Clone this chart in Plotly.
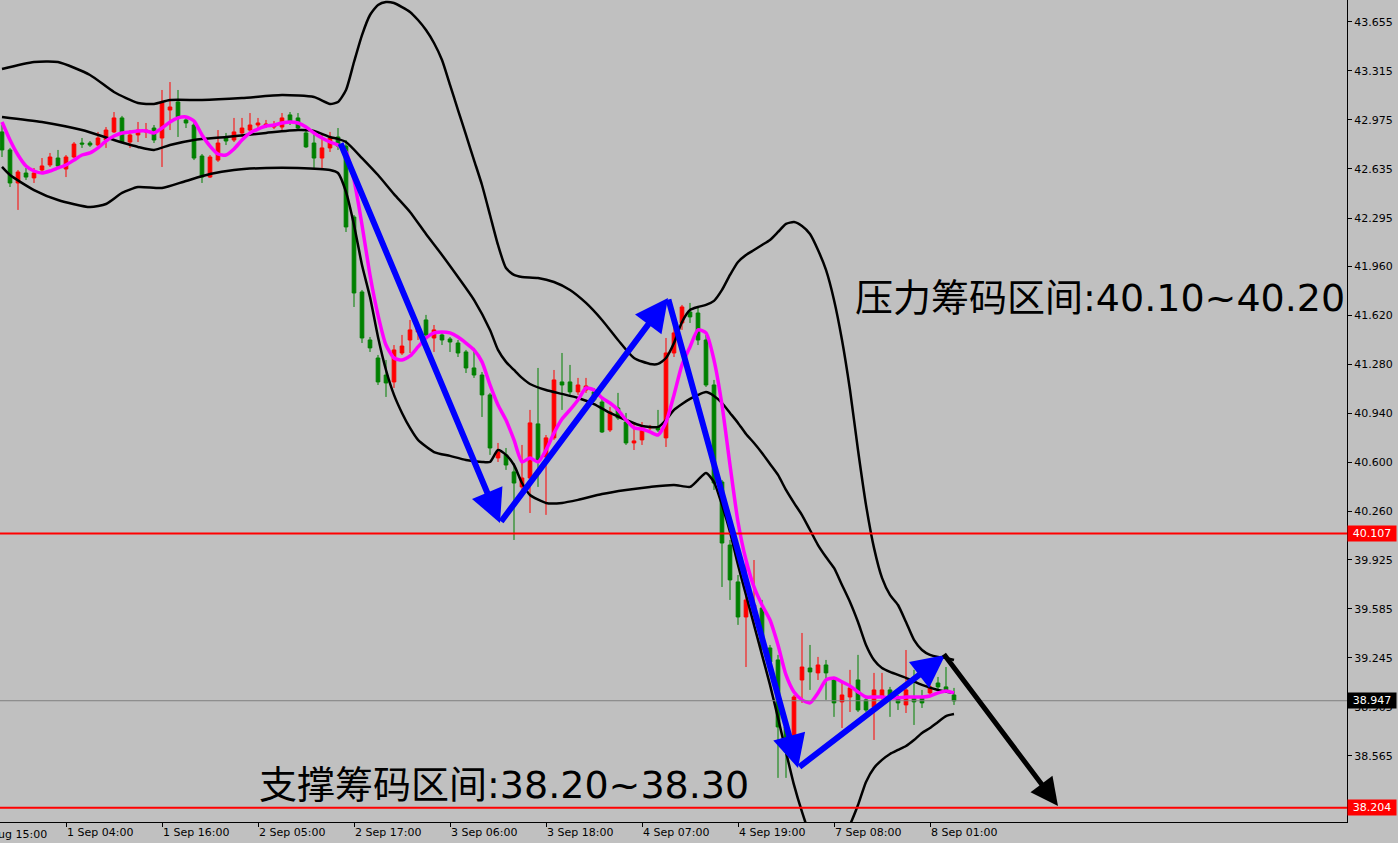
import plotly.graph_objects as go

# ---------------- data (H1 bars, index 0..119) ----------------
bar_open = [42.892,42.767,42.538,42.607,42.573,42.628,42.663,42.711,42.635,42.718,
            42.815,42.815,42.801,42.836,42.892,42.989,42.822,42.871,42.892,42.919,
            42.850,43.044,43.100,42.975,42.940,42.725,42.579,42.697,42.850,42.836,
            42.885,42.905,42.940,42.933,42.926,42.926,43.010,42.989,42.885,42.815,
            42.711,42.781,42.857,42.794,42.302,41.782,41.449,41.324,41.206,41.158,
            41.359,41.449,41.505,41.588,41.463,41.484,41.456,41.428,41.366,41.255,
            41.206,41.068,40.631,40.652,40.534,40.430,40.492,40.867,40.638,40.770,
            41.158,41.158,41.089,41.102,41.089,41.019,40.825,40.978,40.880,40.735,
            40.756,40.839,40.846,40.770,41.359,41.567,41.643,41.636,41.449,41.137,
            40.464,40.027,39.771,39.528,39.563,39.590,39.313,39.230,38.765,38.606,
            39.091,39.174,39.140,39.195,39.091,38.939,38.973,39.091,38.953,38.904,
            38.973,39.022,38.966,38.918,38.973,38.973,39.001,39.070,39.043,38.987]
bar_high = [42.940,42.781,42.628,42.642,42.642,42.711,42.746,42.767,42.732,42.822,
            42.850,42.829,42.892,42.926,43.030,43.003,42.905,42.961,42.954,42.940,
            43.183,43.238,43.183,42.996,42.961,42.739,42.732,42.905,42.885,42.989,
            42.989,43.023,42.989,42.975,42.968,43.023,43.030,43.023,42.905,42.905,
            42.885,42.892,42.919,42.836,42.316,41.796,41.470,41.345,41.310,41.414,
            41.484,41.588,41.574,41.623,41.553,41.505,41.470,41.449,41.380,41.394,
            41.227,41.082,40.735,40.700,40.596,40.721,40.964,41.255,40.790,41.241,
            41.359,41.276,41.186,41.186,41.116,41.054,40.985,41.082,40.943,40.880,
            40.880,40.860,40.964,41.463,41.602,41.692,41.706,41.671,41.484,41.172,
            40.478,40.062,39.819,39.910,39.923,39.646,39.334,39.265,38.779,38.987,
            39.417,39.334,39.251,39.230,39.105,39.070,39.161,39.265,38.973,39.140,
            39.140,39.043,38.987,39.299,39.161,39.022,39.112,39.112,39.181,39.036]
bar_low = [42.718,42.510,42.351,42.559,42.538,42.607,42.649,42.642,42.579,42.711,
           42.781,42.788,42.794,42.781,42.885,42.815,42.781,42.822,42.850,42.815,
           42.649,42.905,42.857,42.919,42.697,42.538,42.573,42.684,42.801,42.822,
           42.857,42.892,42.919,42.919,42.912,42.905,42.940,42.905,42.781,42.642,
           42.642,42.753,42.767,42.198,41.678,41.428,41.366,41.137,41.054,41.116,
           41.345,41.359,41.449,41.470,41.366,41.414,41.366,41.331,41.220,41.186,
           40.915,40.652,40.603,40.548,40.062,40.409,40.249,40.430,40.236,40.756,
           40.964,41.068,41.068,41.082,41.019,40.804,40.811,40.894,40.721,40.686,
           40.721,40.825,40.811,40.707,41.331,41.519,41.567,41.414,41.123,40.409,
           39.736,39.646,39.473,39.181,39.473,39.299,39.195,38.412,38.412,38.536,
           38.932,39.022,39.091,38.953,38.835,38.758,38.869,38.869,38.869,38.675,
           38.953,38.835,38.883,38.862,38.779,38.897,38.973,39.022,39.008,38.918]
bar_close = [42.767,42.538,42.614,42.579,42.607,42.656,42.718,42.656,42.718,42.808,
             42.808,42.801,42.850,42.905,42.989,42.822,42.871,42.905,42.905,42.836,
             43.093,43.065,42.996,42.954,42.711,42.579,42.718,42.815,42.829,42.892,
             42.919,42.940,42.954,42.947,42.940,42.989,42.961,42.919,42.788,42.711,
             42.781,42.850,42.794,42.233,41.775,41.463,41.394,41.158,41.151,41.380,
             41.407,41.519,41.532,41.484,41.519,41.449,41.435,41.359,41.255,41.206,
             41.068,40.700,40.672,40.582,40.457,40.492,40.874,40.617,40.770,41.172,
             41.137,41.089,41.137,41.130,41.033,40.811,40.950,40.908,40.735,40.749,
             40.839,40.846,40.825,41.359,41.498,41.678,41.609,41.449,41.137,40.457,
             40.041,39.785,39.528,39.646,39.611,39.313,39.216,38.765,38.592,38.973,
             39.181,39.147,39.195,39.140,38.932,38.987,39.036,38.883,38.883,39.022,
             39.022,38.966,38.932,39.022,38.939,38.932,39.043,39.043,39.022,38.946]

ma_values = [42.961,42.836,42.732,42.656,42.621,42.607,42.621,42.642,42.663,42.697,
             42.732,42.746,42.781,42.829,42.864,42.885,42.892,42.899,42.899,42.885,
             42.919,42.961,42.989,42.996,42.968,42.871,42.794,42.739,42.732,42.774,
             42.836,42.885,42.912,42.933,42.940,42.954,42.961,42.954,42.926,42.885,
             42.850,42.822,42.801,42.753,42.559,42.247,41.900,41.622,41.414,41.324,
             41.310,41.338,41.401,41.463,41.498,41.505,41.498,41.470,41.428,41.380,
             41.297,41.137,40.998,40.894,40.756,40.603,40.631,40.603,40.686,40.804,
             40.901,40.964,41.033,41.116,41.102,41.047,41.012,40.964,40.894,40.839,
             40.832,40.811,40.790,40.880,41.068,41.276,41.401,41.519,41.498,41.310,
             40.998,40.582,40.187,39.923,39.736,39.611,39.507,39.334,39.126,39.008,
             38.953,38.932,39.001,39.091,39.105,39.078,39.050,39.008,38.973,38.973,
             38.973,38.967,38.967,38.973,38.973,38.973,38.980,39.001,39.015,39.001]

upper_idx = [0,4,7,11,14,17,19,21,25,30,35,39,41,
             42,43,44,45,46,47,48,49,50,51,52,53,54,55,56,57,58,59,60,61,62,63,64,65,
             67,69,71,73,75,77,79,81,
             82,83,84,85,86,87,88,89,90,91,92,93,94,95,96,97,98,99,100,101,102,103,
             104,105,106,107,108,109,110,111,112,113,114,115,116,117,118,119]
upper_val = [43.328,43.377,43.377,43.287,43.169,43.093,43.086,43.113,43.113,43.127,43.148,43.134,43.086,
             43.100,43.183,43.377,43.564,43.703,43.772,43.793,43.786,43.758,43.724,43.668,43.599,
             43.509,43.391,43.218,43.044,42.871,42.697,42.524,42.316,42.108,41.948,41.900,41.886,
             41.879,41.851,41.796,41.706,41.588,41.449,41.324,41.283,
             41.283,41.324,41.428,41.574,41.657,41.678,41.692,41.720,41.796,41.900,41.990,42.039,
             42.073,42.108,42.143,42.198,42.254,42.267,42.240,42.184,42.073,41.935,41.727,41.449,
             41.102,40.686,40.305,40.007,39.799,39.681,39.611,39.493,39.369,39.299,39.265,39.251,
             39.244,39.230]

mid_idx = [0,5,10,14,17,19,21,24,28,33,37,39,41,42,43,
           45,47,49,51,53,55,57,59,61,62,63,64,65,66,68,70,72,74,76,78,80,
           82,83,84,85,86,87,88,89,90,91,92,93,94,95,96,97,98,99,100,101,102,103,
           104,105,106,107,108,109,110,111,113,115,117,119]
mid_val = [42.996,42.961,42.905,42.836,42.788,42.767,42.801,42.836,42.857,42.885,42.905,42.899,
           42.857,42.843,42.822,
           42.711,42.593,42.461,42.337,42.184,42.039,41.886,41.727,41.518,41.380,41.297,41.241,
           41.186,41.144,41.102,41.075,41.047,41.005,40.943,40.894,40.853,
           40.846,40.894,40.964,41.005,41.040,41.068,41.088,41.061,41.012,40.943,40.874,40.797,
           40.735,40.666,40.589,40.513,40.409,40.319,40.235,40.131,40.027,39.944,39.868,39.750,
           39.632,39.493,39.334,39.230,39.174,39.147,39.105,39.057,39.022,39.001]

lower_idx = [0,1,4,7,11,13,15,17,20,23,26,29,33,37,41,
             42,43,44,45,46,47,48,49,50,51,52,54,56,58,60,61,62,63,64,65,66,
             68,70,72,75,78,81,84,
             86,87,88,89,90,91,92,93,94,95,96,97,98,99,100,101,102,103,104,105,106,
             107,108,109,110,111,112,113,114,115,116,117,118,119]
lower_val = [42.649,42.593,42.489,42.420,42.371,42.392,42.469,42.510,42.503,42.552,42.600,
             42.628,42.642,42.642,42.628,
             42.607,42.476,42.247,41.969,41.747,41.470,41.241,41.068,40.943,40.839,40.756,
             40.672,40.645,40.617,40.603,40.603,40.686,40.652,40.582,40.457,40.374,
             40.319,40.319,40.340,40.381,40.409,40.430,40.444,
             40.430,40.478,40.527,40.464,40.305,40.118,39.889,39.681,39.473,39.265,39.057,
             38.828,38.592,38.363,38.176,38.016,37.912,37.857,37.878,37.961,38.086,
             38.224,38.384,38.481,38.537,38.578,38.606,38.633,38.675,38.724,38.758,38.800,
             38.841,38.855]

time_tick_idx = [8, 20, 32, 44, 56, 68, 80, 92, 104, 116]
time_tick_text = ["1 Sep 04:00", "1 Sep 16:00", "2 Sep 05:00", "2 Sep 17:00",
                  "3 Sep 06:00", "3 Sep 18:00", "4 Sep 07:00", "4 Sep 19:00",
                  "7 Sep 08:00", "8 Sep 01:00"]
first_time_label = "29 Aug 15:00"

price_ticks = [43.655, 43.315, 42.975, 42.635, 42.295, 41.960, 41.620, 41.280, 40.940,
               40.600, 40.260, 39.925, 39.585, 39.245, 38.905, 38.565, 38.225]

resistance_level = 40.107
support_level = 38.204
last_price = 38.947

# trend arrows (bar index, price): start -> end
blue_x0 = [42.25, 62.25, 83.25, 99.5]
blue_y0 = [42.822, 40.180, 41.740, 38.481]
blue_x1 = [62.25, 83.25, 99.5, 117.9]
blue_y1 = [40.180, 41.740, 38.481, 39.265]
black_x0, black_y0 = 117.6, 39.280
black_x1, black_y1 = 132.0, 38.217

resistance_text = "压力筹码区间:40.10~40.20"
support_text = "支撑筹码区间:38.20~38.30"

# ---------------- figure ----------------
idx = list(range(len(bar_open)))
fig = go.Figure()

band_line = dict(color="black", width=2.5, shape="spline", smoothing=0.6)
fig.add_trace(go.Scatter(x=upper_idx, y=upper_val, mode="lines", line=band_line, hoverinfo="skip"))
fig.add_trace(go.Scatter(x=mid_idx, y=mid_val, mode="lines", line=band_line, hoverinfo="skip"))
fig.add_trace(go.Scatter(x=lower_idx, y=lower_val, mode="lines", line=band_line, hoverinfo="skip"))

fig.add_trace(go.Candlestick(
    x=idx, open=bar_open, high=bar_high, low=bar_low, close=bar_close,
    increasing=dict(line=dict(color="#FF0000", width=1), fillcolor="#FF0000"),
    decreasing=dict(line=dict(color="#008000", width=1), fillcolor="#008000"),
    whiskerwidth=0, hoverinfo="skip"))

fig.add_trace(go.Scatter(x=idx, y=ma_values, mode="lines",
                         line=dict(color="#FF00FF", width=3.5, shape="spline", smoothing=0.6),
                         hoverinfo="skip"))

shapes = [
    dict(type="line", xref="paper", x0=0, x1=1, yref="y", y0=last_price, y1=last_price,
         line=dict(color="#7F7F7F", width=1)),
    dict(type="line", xref="paper", x0=0, x1=1, yref="y", y0=resistance_level, y1=resistance_level,
         line=dict(color="#FF0000", width=2)),
    dict(type="line", xref="paper", x0=0, x1=1, yref="y", y0=support_level, y1=support_level,
         line=dict(color="#FF0000", width=2)),
]

annotations = []
for x0, y0, x1, y1 in zip(blue_x0, blue_y0, blue_x1, blue_y1):
    annotations.append(dict(x=x1, y=y1, ax=x0, ay=y0, xref="x", yref="y", axref="x", ayref="y",
                            text="", showarrow=True, arrowhead=2, arrowsize=1.1,
                            arrowwidth=6, arrowcolor="#0000FF"))
annotations.append(dict(x=black_x1, y=black_y1, ax=black_x0, ay=black_y0, xref="x", yref="y",
                        axref="x", ayref="y", text="", showarrow=True, arrowhead=2,
                        arrowsize=1.1, arrowwidth=5, arrowcolor="#000000"))

big_font = dict(family="DejaVu Sans, Noto Sans CJK SC", size=38, color="black")
annotations.append(dict(x=106.4, y=41.74, xref="x", yref="y", xanchor="left", yanchor="middle",
                        text=resistance_text, showarrow=False, font=big_font))
annotations.append(dict(x=31.9, y=38.36, xref="x", yref="y", xanchor="left", yanchor="middle",
                        text=support_text, showarrow=False, font=big_font))

small_font = dict(family="DejaVu Sans", size=11, color="white")
for level, bg in [(resistance_level, "#FF0000"), (support_level, "#FF0000"), (last_price, "#000000")]:
    annotations.append(dict(x=1, y=level, xref="paper", yref="y", xanchor="left", yanchor="middle",
                            text=f"{level:.3f}", showarrow=False, font=small_font,
                            bgcolor=bg, width=46, height=13, borderpad=1, align="center"))

annotations.append(dict(x=-0.0215, y=0, xref="paper", yref="paper", xanchor="left", yanchor="top",
                        yshift=-4, text=first_time_label, showarrow=False,
                        font=dict(family="DejaVu Sans", size=11, color="black")))

fig.update_layout(
    width=1398, height=843,
    paper_bgcolor="#C0C0C0", plot_bgcolor="#C0C0C0",
    margin=dict(l=0, r=51, t=0, b=21),
    showlegend=False, boxgap=0.35,
    shapes=shapes, annotations=annotations,
    font=dict(family="DejaVu Sans", size=11, color="black"),
    xaxis=dict(range=[-0.25, 168.125], rangeslider=dict(visible=False),
               tickmode="array", tickvals=time_tick_idx, ticktext=time_tick_text,
               ticks="outside", ticklen=4, tickcolor="black", ticklabelposition="outside right",
               showline=True, linecolor="black", linewidth=1, showgrid=False, zeroline=False,
               tickfont=dict(family="DejaVu Sans", size=11, color="black")),
    yaxis=dict(range=[38.106, 43.807], side="right",
               tickmode="array", tickvals=price_ticks, ticktext=[f"{v:.3f}" for v in price_ticks],
               ticks="outside", ticklen=4, tickcolor="black",
               showline=True, linecolor="black", linewidth=1, showgrid=False, zeroline=False,
               tickfont=dict(family="DejaVu Sans", size=11, color="black")),
)

fig.write_html("out.html",
               config={"displayModeBar": False},
               post_script="document.body.style.margin='0px';"
                           "document.body.style.background='#C0C0C0';"
                           "document.body.style.overflow='hidden';")
